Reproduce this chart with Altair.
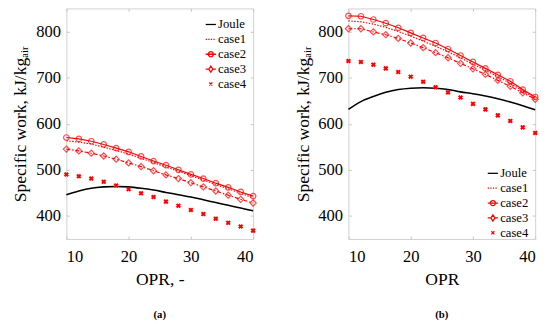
import altair as alt
import pandas as pd

opr = list(range(10, 41, 2))
series = ["Joule", "case1", "case2", "case3", "case4"]

# Panel (a)
a_joule = [446, 454, 460, 463, 464, 463, 460, 456, 451, 446, 441, 435, 429, 423, 417, 411]
a_case1 = [563, 560, 556, 549, 542, 534, 525, 516, 506, 497, 487, 478, 468, 459, 449, 439]
a_case2 = [570, 567, 562, 555, 547, 539, 529, 519, 510, 500, 490, 481, 471, 462, 452, 443]
a_case3 = [545, 541, 536, 530, 523, 515, 507, 498, 489, 481, 472, 463, 454, 445, 436, 428]
a_case4 = [490, 486, 481, 474, 466, 458, 449, 441, 431, 422, 413, 404, 394, 385, 377, 368]

# Panel (b)
b_joule = [631, 648, 659, 668, 674, 677, 678, 677, 674, 669, 665, 660, 654, 647, 639, 630]
b_case1 = [823, 821, 816, 809, 800, 790, 779, 768, 756, 743, 729, 716, 702, 688, 671, 655]
b_case2 = [834, 833, 826, 818, 808, 797, 786, 775, 762, 748, 734, 720, 706, 692, 674, 658]
b_case3 = [806, 806, 799, 793, 785, 775, 765, 754, 743, 731, 719, 707, 694, 681, 667, 653]
b_case4 = [736, 734, 728, 720, 712, 702, 691, 679, 668, 657, 643, 631, 618, 606, 592, 580]

x_ticks = [10, 20, 30, 40]
y_ticks = [400, 500, 600, 700, 800]

legend_paths = [
    "M-1,0H1",
    "M-1,0H-0.75M-0.5,0H-0.25M0,0H0.25M0.5,0H0.75",
    "M-1,0H1M0.5,0A0.5,0.5,0,1,1,-0.5,0A0.5,0.5,0,1,1,0.5,0Z",
    "M-1,0H-0.4M0.4,0H1M0,-0.6L0.4,0L0,0.6L-0.4,0Z",
    "M-0.3,-0.3L0.3,0.3M-0.3,0.3L0.3,-0.3",
]
xmark = "M-1,-1L1,1M-1,1L1,-1"

SERIF = "Liberation Serif"
TICK = "#c4c4c4"


def long_df(vals):
    rows = []
    for s, v in zip(series, vals):
        for x, w in zip(opr, v):
            rows.append({"OPR": x, "W": w, "series": s})
    return pd.DataFrame(rows)


def panel(vals, xtitle, caption, legend_y):
    df = long_df(vals)
    base = alt.Chart(df)
    xs = alt.Scale(domain=[10, 40], nice=False)
    ys = alt.Scale(domain=[350, 850], nice=False)
    x_main = alt.X("OPR:Q", scale=xs, axis=alt.Axis(values=x_ticks, title=xtitle, offset=-3, ticks=True,
                                                     tickSize=3, tickColor=TICK, labelFont=SERIF))
    y_main = alt.Y("W:Q", scale=ys, axis=alt.Axis(values=y_ticks, title="Specific work, kJ/kgₐᵢᵣ", offset=-3,
                                                   ticks=True, tickSize=3, tickColor=TICK, labelFont=SERIF))
    x_top = alt.X("OPR:Q", scale=xs, axis=alt.Axis(values=x_ticks, orient="top", title=None, labels=False,
                                                    offset=-3, ticks=True, tickSize=3, tickColor=TICK))
    y_right = alt.Y("W:Q", scale=ys, axis=alt.Axis(values=y_ticks, orient="right", title=None, labels=False,
                                                    offset=-3, ticks=True, tickSize=3, tickColor=TICK))
    x = alt.X("OPR:Q", scale=xs, axis=None)
    y = alt.Y("W:Q", scale=ys, axis=None)

    def sel(s):
        return base.transform_filter(alt.datum.series == s)

    joule = sel("Joule").mark_line(color="black", strokeWidth=1.6, interpolate="monotone").encode(x=x_main, y=y_main)
    c1 = sel("case1").mark_line(color="red", strokeWidth=1.2, strokeDash=[1.5, 1.5]).encode(x=x_top, y=y_right)
    c2l = sel("case2").mark_line(color="red", strokeWidth=1.2).encode(x=x, y=y)
    c2p = sel("case2").mark_point(color="red", shape="circle", filled=False, size=32, strokeWidth=1.2).encode(x=x, y=y)
    c3l = sel("case3").mark_line(color="red", strokeWidth=1.2, strokeDash=[4, 2, 1.5, 2]).encode(x=x, y=y)
    c3p = sel("case3").mark_point(color="red", shape="diamond", filled=False, size=40, strokeWidth=1.2).encode(x=x, y=y)
    c4p = sel("case4").mark_point(color="red", shape=xmark, filled=False, size=14, strokeWidth=2.1, opacity=1).encode(x=x, y=y)

    leg = alt.Legend(title=None, orient="none", legendX=142, legendY=legend_y, padding=0,
                     labelFont=SERIF, labelFontSize=13, labelColor="black",
                     symbolSize=110, symbolStrokeWidth=1.3, symbolOpacity=1,
                     rowPadding=1.3, labelOffset=1)
    legend_layer = base.mark_point(opacity=0, filled=False).encode(
        x=x, y=y,
        color=alt.Color("series:N", scale=alt.Scale(domain=series, range=["black", "red", "red", "red", "red"]), legend=leg),
        shape=alt.Shape("series:N", scale=alt.Scale(domain=series, range=legend_paths), legend=leg),
    )

    return alt.layer(joule, c1, c2l, c3l, c2p, c3p, c4p, legend_layer).resolve_axis(
        x="independent", y="independent"
    ).properties(
        width=192, height=237,
        title=alt.TitleParams(caption, orient="bottom", font=SERIF, fontSize=11, fontWeight="bold",
                              color="black", offset=21),
    )


left = panel([a_joule, a_case1, a_case2, a_case3, a_case4], "OPR, -", "(a)", 10)
right = panel([b_joule, b_case1, b_case2, b_case3, b_case4], "OPR", "(b)", 163)

chart = alt.hconcat(left, right, spacing=35).resolve_scale(
    color="independent", shape="independent"
).resolve_legend(color="independent", shape="independent").properties(
    padding={"left": 4, "top": -5, "right": 0, "bottom": 0}
).configure(background="white").configure_view(stroke="#d0d0d0", strokeWidth=1).configure_axis(
    grid=False, domain=False, ticks=False,
    labelFont=SERIF, labelFontSize=17, labelColor="black",
    titleFont=SERIF, titleFontSize=18, titleFontWeight="normal", titleColor="black",
).configure_axisX(labelPadding=10, titlePadding=7).configure_axisY(labelPadding=6, titlePadding=6)

chart.save("out.html", embed_options={"renderer": "svg", "actions": False})
